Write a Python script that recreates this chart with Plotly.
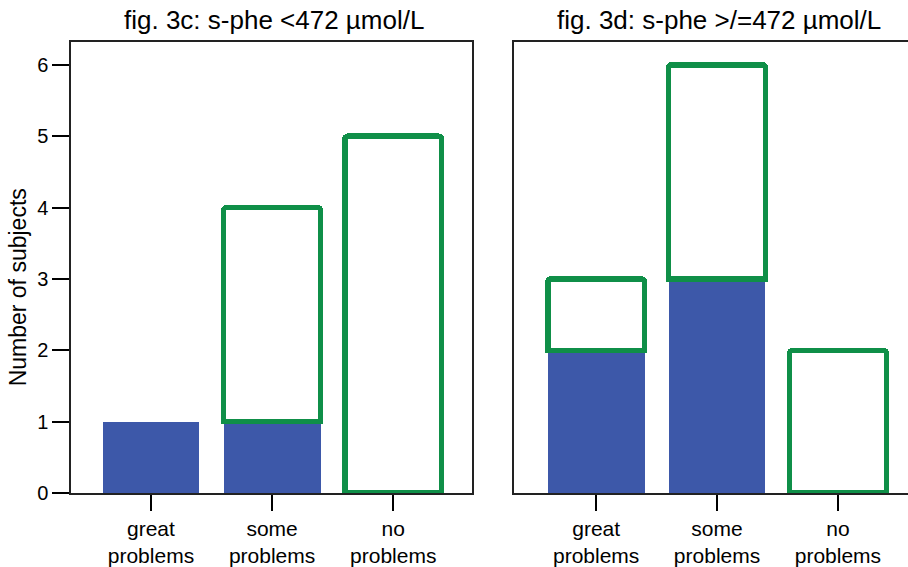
import plotly.graph_objects as go

categories = ["great<br>problems", "some<br>problems", "no<br>problems"]
titles = ["fig. 3c: s-phe <472 µmol/L", "fig. 3d: s-phe >/=472 µmol/L"]
# filled (blue) part and outlined (green) part stacked on top
blue_3c = [1, 1, None]
green_3c = [None, 3, 5]
blue_3d = [2, 3, None]
green_3d = [1, 3, 2]
y_title = "Number of subjects"

BLUE = "#3d58a9"
GREEN = "#0f8f48"
FONT = "Liberation Sans, Arial, sans-serif"
LINE = "#222222"

fig = go.Figure()
for blue, green, xa, ya in [(blue_3c, green_3c, "x", "y"), (blue_3d, green_3d, "x2", "y2")]:
    fig.add_trace(go.Bar(x=categories, y=blue, xaxis=xa, yaxis=ya, width=0.8,
                         marker=dict(color=BLUE, line=dict(width=0), cornerradius=3),
                         showlegend=False, hoverinfo="y"))
    fig.add_trace(go.Bar(x=categories, y=green, xaxis=xa, yaxis=ya, width=0.8,
                         marker=dict(color="white", line=dict(color=GREEN, width=5.5), cornerradius=3),
                         showlegend=False, hoverinfo="y"))

W, H = 908, 567
ml, mr, mt, mb = 71, 0, 42, 71
pw, ph = W - ml - mr, H - mt - mb

axis_common = dict(showline=True, linecolor=LINE, linewidth=1.5, showgrid=False, zeroline=False,
                   ticks="outside", tickcolor="black", tickwidth=2,
                   tickfont=dict(family=FONT, size=21, color="black"))

fig.update_layout(
    width=W, height=H, barmode="stack",
    margin=dict(l=ml, r=mr, t=mt, b=mb),
    paper_bgcolor="white", plot_bgcolor="white",
    font=dict(family=FONT, color="black"),
    xaxis=dict(axis_common, domain=[0, 401 / pw], range=[-0.66, 2.65], mirror=True, ticklen=16,
               type="category"),
    yaxis=dict(axis_common, range=[0, 6.32], dtick=1, mirror=True, ticklen=17,
               tickfont=dict(family=FONT, size=20, color="black")),
    xaxis2=dict(axis_common, domain=[(514 - ml) / pw, 1], range=[-0.68, 2.58], mirror=True, ticklen=16,
                type="category", anchor="y2"),
    yaxis2=dict(axis_common, range=[0, 6.32], dtick=1, anchor="x2", mirror=False,
                ticks="", showticklabels=False),
    annotations=[
        dict(text=titles[0], xref="paper", yref="paper", x=(274 - ml) / pw, y=(H - mb - 20) / ph,
             xanchor="center", yanchor="middle", showarrow=False, font=dict(family=FONT, size=26)),
        dict(text=titles[1], xref="paper", yref="paper", x=(719 - ml) / pw, y=(H - mb - 20) / ph,
             xanchor="center", yanchor="middle", showarrow=False, font=dict(family=FONT, size=26)),
        dict(text=y_title, xref="paper", yref="paper", x=(18 - ml) / pw, y=(H - mb - 289) / ph,
             xanchor="center", yanchor="middle", showarrow=False, textangle=-90,
             font=dict(family=FONT, size=23)),
    ],
)

fig.write_html("out.html")
